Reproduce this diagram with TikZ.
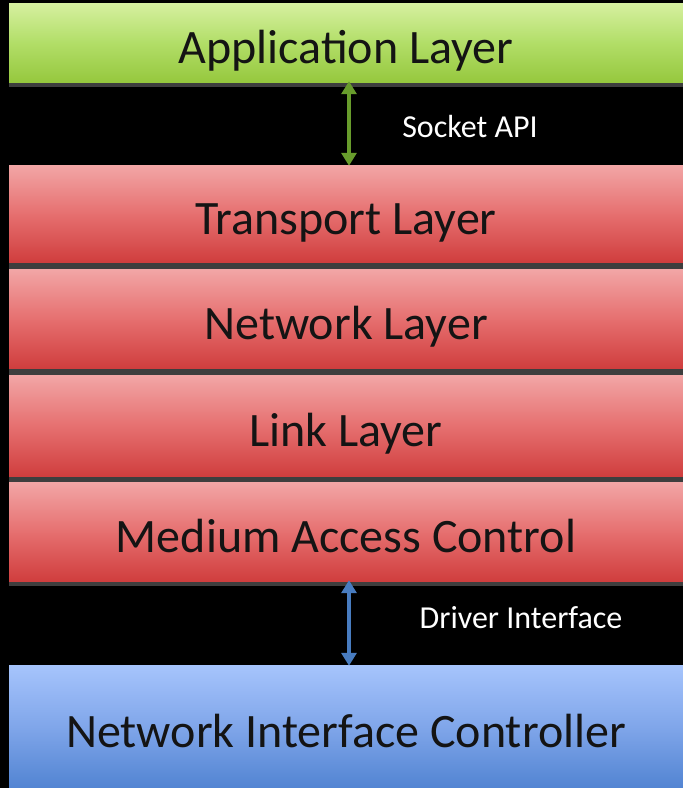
\documentclass[tikz,border=0pt]{standalone}
\usepackage{fontspec}
\setmainfont{Carlito}
\usetikzlibrary{arrows.meta}
\definecolor{gtop}{RGB}{214,240,160}
\definecolor{gmid}{RGB}{178,222,104}
\definecolor{gbot}{RGB}{150,200,62}
\definecolor{rtop}{RGB}{242,166,166}
\definecolor{rmid}{RGB}{230,112,112}
\definecolor{rbot}{RGB}{208,62,62}
\definecolor{btop}{RGB}{166,196,252}
\definecolor{bmid}{RGB}{128,166,234}
\definecolor{bbot}{RGB}{82,132,210}
\definecolor{garrow}{RGB}{104,156,44}
\definecolor{barrow}{RGB}{72,124,192}
\definecolor{shadowc}{RGB}{62,62,62}
\tikzset{
  layer/.style={draw=none, minimum width=674pt, inner sep=0pt, text=black!92,
    text height=42pt, text depth=0pt, font=\fontsize{48}{57}\selectfont},
  greenbox/.style={layer, top color=gtop, bottom color=gbot, middle color=gmid},
  redbox/.style={layer, top color=rtop, bottom color=rbot, middle color=rmid},
  bluebox/.style={layer, top color=btop, bottom color=bbot, middle color=bmid},
  lbl/.style={text=white, inner sep=0pt, font=\fontsize{32}{38}\selectfont},
  dbl/.style={line width=4.5pt, {Triangle[width=15pt,length=13pt]}-{Triangle[width=15pt,length=13pt]}, shorten <=-1pt, shorten >=-1pt},
}
\begin{document}
\begin{tikzpicture}[x=1pt,y=-1pt]
\fill[black] (0,0) rectangle (683,788);
\useasboundingbox (0,0) rectangle (683,788);
% shadows
\fill[shadowc] (9,82) rectangle (683,87);
\fill[shadowc] (9,262) rectangle (683,269);
\fill[shadowc] (9,368) rectangle (683,375);
\fill[shadowc] (9,476) rectangle (683,482);
\fill[shadowc] (9,581) rectangle (683,586);
% boxes
\node[greenbox, minimum height=79pt] (app) at (346,42.5) {Application Layer};
\node[redbox, minimum height=97pt] (trans) at (346,213.5) {Transport Layer};
\node[redbox, minimum height=99pt] (net) at (346,318.5) {Network Layer};
\node[redbox, minimum height=101pt] (link) at (346,425.5) {Link Layer};
\node[redbox, minimum height=99pt] (mac) at (346,531.5) {Medium Access Control};
\node[bluebox, minimum height=123pt] (nic) at (346,726.5) {Network Interface Controller};
% arrows
\draw[dbl, garrow] ([xshift=3pt]app.south) -- ([xshift=3pt]trans.north);
\draw[dbl, barrow] ([xshift=3pt]mac.south) -- ([xshift=3pt]nic.north);
% labels
\node[lbl] (sock) at (470,127) {Socket API};
\node[lbl] (drv) at (521,618) {Driver Interface};
\end{tikzpicture}
\end{document}
